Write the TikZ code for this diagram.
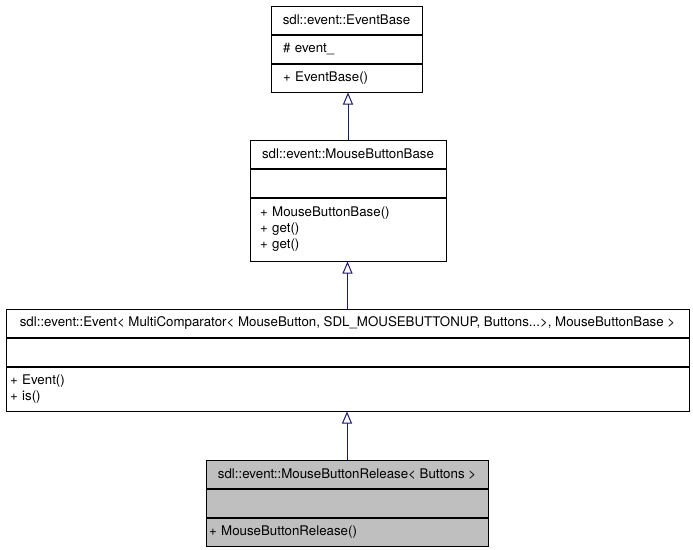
\documentclass[tikz,border=0pt]{standalone}
\usepackage{fontspec}
\setmainfont{TeX Gyre Heros}
\usetikzlibrary{arrows.meta}
\definecolor{edgeblue}{HTML}{191970}
\definecolor{boxgray}{HTML}{BFBFBF}
\tikzset{
  cls/.style={draw, line width=1pt, inner ysep=0pt, minimum height=28pt,
    anchor=north west, font=\fontsize{13.3}{16}\selectfont},
  members/.style={align=left, inner xsep=#1},
  inherit/.style={draw=edgeblue, line width=1pt,
    -{Triangle[open, width=10pt, length=12pt]}}
}
\begin{document}
\begin{tikzpicture}[x=1pt, y=-1pt]
\useasboundingbox (0,0) rectangle (693,549);

% EventBase
\node[cls, minimum width=151pt] (eb) at (270.5,5.5) {sdl::event::EventBase};
\node[cls, members=12pt, text width=127pt] (eb-a) at (eb.south west) {\# event\_};
\node[cls, members=12pt, text width=127pt] (eb-m) at (eb-a.south west) {+ EventBase()};

% MouseButtonBase
\node[cls, minimum width=196pt] (mbb) at (249.5,139.5) {sdl::event::MouseButtonBase};
\node[cls, minimum width=196pt] (mbb-a) at (mbb.south west) {};
\node[cls, members=10pt, text width=176pt, minimum height=63pt] (mbb-m) at (mbb-a.south west)
  {+ MouseButtonBase()\\+ get()\\+ get()};

% Event< ... >
\node[cls, minimum width=683pt] (ev) at (5.5,308.5)
  {sdl::event::Event< MultiComparator< MouseButton, SDL\_MOUSEBUTTONUP, Buttons...>, MouseButtonBase >};
\node[cls, minimum width=683pt] (ev-a) at (ev.south west) {};
\node[cls, members=4pt, text width=675pt, minimum height=44pt] (ev-m) at (ev-a.south west)
  {+ Event()\\+ is()};

% MouseButtonRelease
\node[cls, fill=boxgray, minimum width=282pt] (mbr) at (205.5,459.5) {sdl::event::MouseButtonRelease< Buttons >};
\node[cls, fill=boxgray, minimum width=282pt] (mbr-a) at (mbr.south west) {};
\node[cls, fill=boxgray, members=3pt, text width=276pt] (mbr-m) at (mbr-a.south west) {+ MouseButtonRelease()};

\draw[inherit] (mbb.north) -- (mbb.north |- eb-m.south);
\draw[inherit] (ev.north) -- (ev.north |- mbb-m.south);
\draw[inherit] (mbr.north) -- (mbr.north |- ev-m.south);
\end{tikzpicture}
\end{document}
